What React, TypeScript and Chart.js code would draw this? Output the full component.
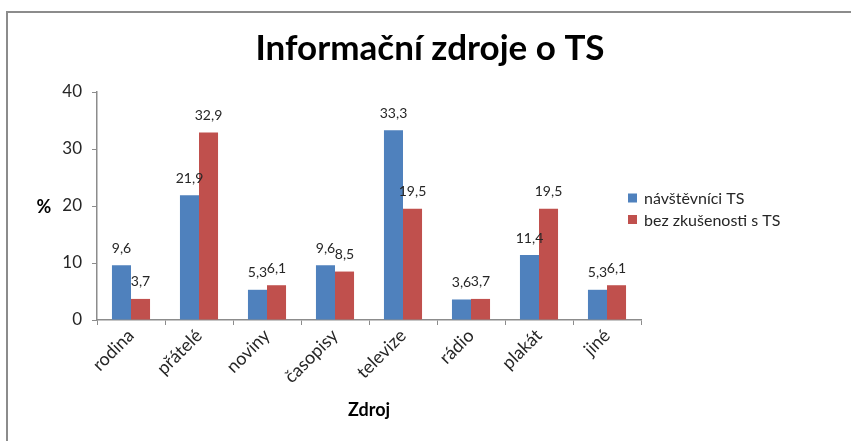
import React, { useEffect, useRef } from "react";
import { Chart, registerables } from "chart.js";

Chart.register(...registerables);

const categories = ["rodina", "přátelé", "noviny", "časopisy", "televize", "rádio", "plakát", "jiné"];
const visitors = [9.6, 21.9, 5.3, 9.6, 33.3, 3.6, 11.4, 5.3];
const noExperience = [3.7, 32.9, 6.1, 8.5, 19.5, 3.7, 19.5, 6.1];
const seriesNames = ["návštěvníci TS", "bez zkušenosti s TS"];
const seriesColors = ["#4F81BD", "#C0504D"];
const titleText = "Informační zdroje o TS";
const yTitle = "%";
const xTitle = "Zdroj";

const FONT = "Lato, 'Open Sans', sans-serif";

const framePlugin = {
  id: "frame",
  beforeDraw(chart: any) {
    const ctx = chart.ctx;
    ctx.save();
    ctx.fillStyle = "#ffffff";
    ctx.fillRect(0, 0, chart.width, chart.height);
    ctx.strokeStyle = "#8c8c8c";
    ctx.lineWidth = 2;
    ctx.strokeRect(7, 12, chart.width + 10, chart.height + 10);
    ctx.restore();
  },
};

const extrasPlugin = {
  id: "extras",
  afterDraw(chart: any) {
    const ctx = chart.ctx;
    const area = chart.chartArea;
    ctx.save();
    // chart title
    ctx.font = `bold 35px ${FONT}`;
    ctx.fillStyle = "#000000";
    ctx.textAlign = "center";
    ctx.textBaseline = "alphabetic";
    ctx.fillText(titleText, 430, 60);
    // data labels
    ctx.font = `14px ${FONT}`;
    ctx.fillStyle = "#262626";
    ctx.textAlign = "center";
    ctx.textBaseline = "middle";
    chart.data.datasets.forEach((ds: any, i: number) => {
      const meta = chart.getDatasetMeta(i);
      meta.data.forEach((bar: any, j: number) => {
        const v = ds.data[j];
        ctx.fillText(String(v).replace(".", ","), bar.x, bar.y - 17);
      });
    });
    // y title
    ctx.font = `bold 18px ${FONT}`;
    ctx.fillStyle = "#000000";
    ctx.fillText(yTitle, 44, (area.top + area.bottom) / 2 + 1);
    // legend
    ctx.font = `16px ${FONT}`;
    ctx.textAlign = "left";
    seriesNames.forEach((name, i) => {
      const cy = 198 + i * 21.5;
      ctx.fillStyle = seriesColors[i];
      ctx.fillRect(628, cy - 4.5, 9, 9);
      ctx.fillStyle = "#262626";
      ctx.fillText(name, 644, cy + 1);
    });
    ctx.restore();
  },
};

export default function App() {
  const ref = useRef<HTMLCanvasElement | null>(null);
  useEffect(() => {
    document.body.style.margin = "0";
    const canvas = ref.current!;
    const chart = new Chart(canvas, {
      type: "bar",
      data: {
        labels: categories,
        datasets: [
          { label: seriesNames[0], data: visitors, backgroundColor: seriesColors[0], borderWidth: 0 },
          { label: seriesNames[1], data: noExperience, backgroundColor: seriesColors[1], borderWidth: 0 },
        ],
      },
      options: {
        animation: false,
        responsive: false,
        devicePixelRatio: 1,
        layout: { padding: { left: 0, right: 210, top: 92, bottom: 20 } },
        datasets: { bar: { categoryPercentage: 0.56, barPercentage: 1 } },
        plugins: {
          legend: { display: false },
          tooltip: { enabled: false },
          title: { display: false },
        },
        scales: {
          x: {
            grid: { display: true, drawOnChartArea: false, drawTicks: true, tickLength: 5, color: "#8c8c8c", offset: true },
            border: { display: true, color: "#8c8c8c", width: 1.5 },
            ticks: { color: "#262626", font: { family: FONT, size: 18 }, minRotation: 45, maxRotation: 45, padding: 0 },
            title: { display: true, text: xTitle, color: "#000000", font: { family: FONT, size: 18, weight: "bold" }, padding: { top: 4, bottom: 0 } },
            afterFit(scale: any) {
              scale.height = 101;
            },
          },
          y: {
            min: 0,
            max: 40,
            ticks: { stepSize: 10, color: "#262626", font: { family: FONT, size: 17 }, padding: 10 },
            grid: { display: true, drawOnChartArea: false, drawTicks: true, tickLength: 5, color: "#8c8c8c" },
            border: { display: true, color: "#8c8c8c", width: 1.5 },
            afterFit(scale: any) {
              scale.width = 97;
            },
          },
        },
      },
      plugins: [framePlugin, extrasPlugin],
    });
    return () => chart.destroy();
  }, []);
  return (
    <div style={{ width: 851, height: 441 }}>
      <canvas ref={ref} width={851} height={441} style={{ display: "block" }} />
    </div>
  );
}
